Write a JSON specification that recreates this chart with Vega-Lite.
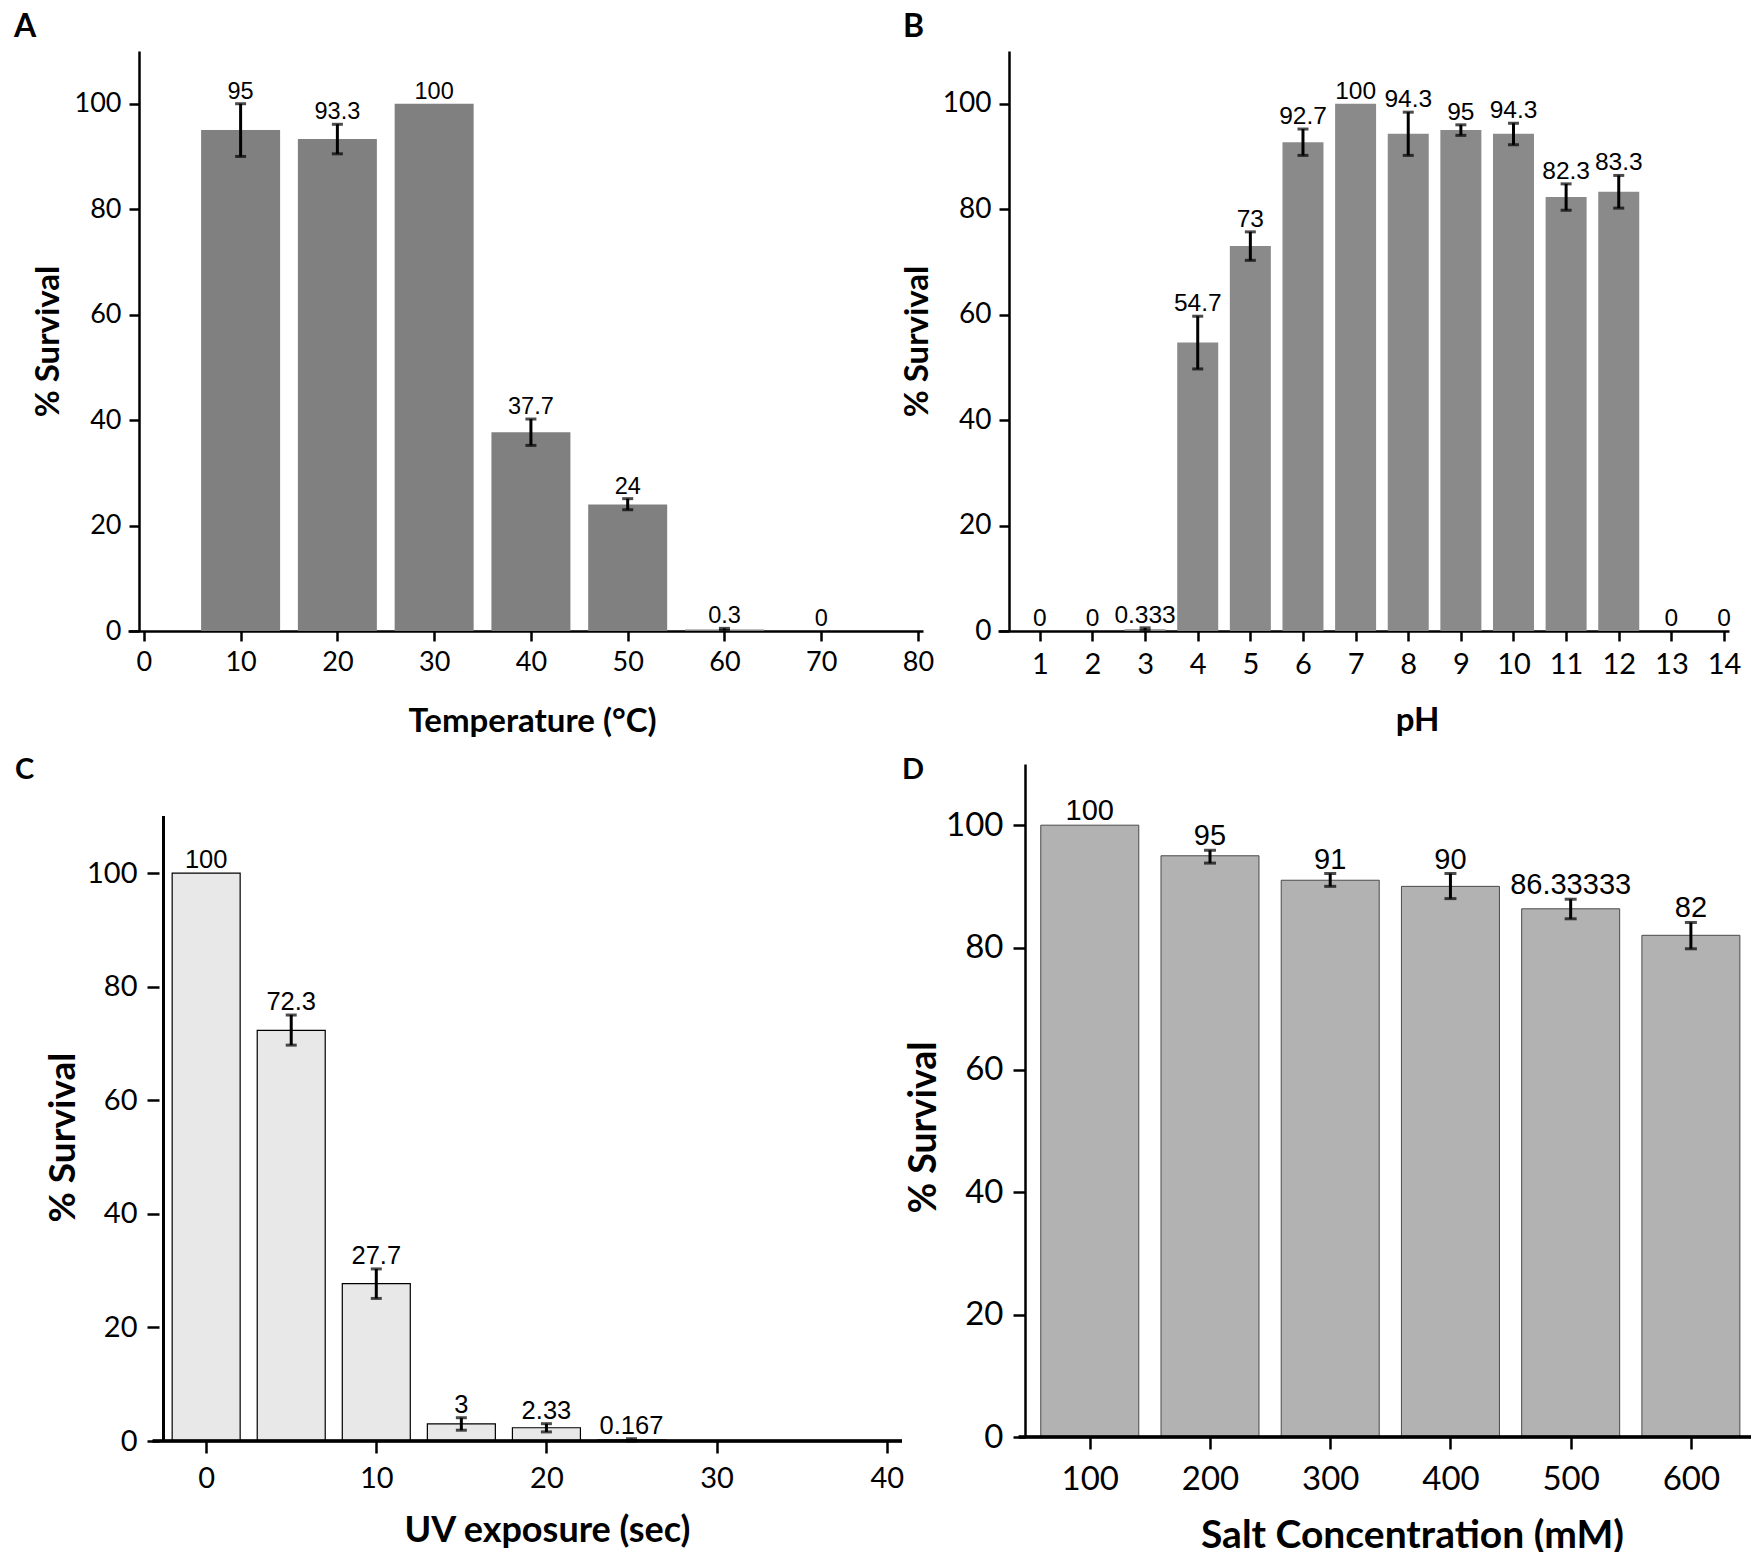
{
  "$schema": "https://vega.github.io/schema/vega-lite/v6.json",
  "background": "white",
  "padding": {"left": 14, "top": 11, "right": 0, "bottom": 0},
  "bounds": "flush",
  "columns": 2,
  "spacing": {"row": 133, "column": 75},
  "datasets": {
    "temp": [
      {"x": 10, "v": 95, "lo": 90, "hi": 100},
      {"x": 20, "v": 93.3, "lo": 90.5, "hi": 96.1},
      {"x": 30, "v": 100},
      {"x": 40, "v": 37.7, "lo": 35.2, "hi": 40.2},
      {"x": 50, "v": 24, "lo": 23, "hi": 25.1},
      {"x": 60, "v": 0.3, "lo": 0.1, "hi": 0.5},
      {"x": 70, "v": 0}
    ],
    "ph": [
      {"x": 1, "v": 0},
      {"x": 2, "v": 0},
      {"x": 3, "v": 0.333, "lo": 0.1, "hi": 0.6},
      {"x": 4, "v": 54.7, "lo": 49.7, "hi": 59.7},
      {"x": 5, "v": 73, "lo": 70.3, "hi": 75.7},
      {"x": 6, "v": 92.7, "lo": 90.2, "hi": 95.2},
      {"x": 7, "v": 100},
      {"x": 8, "v": 94.3, "lo": 90.2, "hi": 98.4},
      {"x": 9, "v": 95, "lo": 94, "hi": 96},
      {"x": 10, "v": 94.3, "lo": 92.2, "hi": 96.3},
      {"x": 11, "v": 82.3, "lo": 79.8, "hi": 84.8},
      {"x": 12, "v": 83.3, "lo": 80.2, "hi": 86.4},
      {"x": 13, "v": 0},
      {"x": 14, "v": 0}
    ],
    "uv": [
      {"x": 0, "v": 100},
      {"x": 5, "v": 72.3, "lo": 69.7, "hi": 75},
      {"x": 10, "v": 27.7, "lo": 25.1, "hi": 30.3},
      {"x": 15, "v": 3, "lo": 1.9, "hi": 4.1},
      {"x": 20, "v": 2.33, "lo": 1.6, "hi": 3.05},
      {"x": 25, "v": 0.167, "lo": 0, "hi": 0.4}
    ],
    "salt": [
      {"x": 100, "v": 100},
      {"x": 200, "v": 95, "lo": 93.8, "hi": 95.9},
      {"x": 300, "v": 91, "lo": 90, "hi": 92.1},
      {"x": 400, "v": 90, "lo": 88, "hi": 92.1},
      {"x": 500, "v": 86.33333, "lo": 84.7, "hi": 87.9},
      {"x": 600, "v": 82, "lo": 79.8, "hi": 84.1}
    ]
  },
  "concat": [
    {
      "width": 795,
      "height": 580,
      "data": {"name": "temp"},
      "title": {"text": "A", "anchor": "start", "frame": "group", "dx": -114, "offset": 7, "fontSize": 32},
      "encoding": {
        "x": {
          "field": "x", "type": "quantitative", "title": "Temperature (°C)",
          "scale": {"domain": [-1.12, 80], "nice": false, "zero": false},
          "axis": {"values": [0, 10, 20, 30, 40, 50, 60, 70, 80], "tickSize": 10, "labelFontSize": 27, "labelPadding": 8.5, "titleFontSize": 33, "titlePadding": 29.5, "titleX": 404}
        }
      },
      "layer": [
        {
          "mark": {"type": "bar", "width": 79, "color": "#808080"},
          "encoding": {
            "y": {
              "field": "v", "type": "quantitative", "title": "% Survival",
              "scale": {"domain": [0, 110], "nice": false},
              "axis": {"values": [0, 20, 40, 60, 80, 100], "offset": -11, "tickSize": 10, "labelFontSize": 27, "labelPadding": 8, "titleFontSize": 33, "titlePadding": 8.5}
            }
          }
        },
        {
          "transform": [{"filter": "isValid(datum.hi)"}],
          "mark": {"type": "rule", "strokeWidth": 3, "color": "black"},
          "encoding": {"y": {"field": "lo", "type": "quantitative", "title": "% Survival"}, "y2": {"field": "hi"}}
        },
        {
          "transform": [{"filter": "isValid(datum.hi)"}],
          "mark": {"type": "tick", "orient": "horizontal", "size": 11, "thickness": 3, "color": "black"},
          "encoding": {"y": {"field": "lo", "type": "quantitative", "title": "% Survival"}}
        },
        {
          "transform": [{"filter": "isValid(datum.hi)"}],
          "mark": {"type": "tick", "orient": "horizontal", "size": 11, "thickness": 3, "color": "black"},
          "encoding": {"y": {"field": "hi", "type": "quantitative", "title": "% Survival"}}
        },
        {
          "transform": [{"filter": "isValid(datum.hi)"}],
          "mark": {"type": "text", "baseline": "alphabetic", "dy": -5, "fontSize": 23.5},
          "encoding": {"y": {"field": "hi", "type": "quantitative", "title": "% Survival"}, "text": {"field": "v", "type": "nominal"}}
        },
        {
          "transform": [{"filter": "!isValid(datum.hi)"}],
          "mark": {"type": "text", "baseline": "alphabetic", "dy": -5, "fontSize": 23.5},
          "encoding": {"y": {"field": "v", "type": "quantitative", "title": "% Survival"}, "text": {"field": "v", "type": "nominal"}}
        }
      ]
    },
    {
      "width": 731,
      "height": 580,
      "data": {"name": "ph"},
      "title": {"text": "B", "anchor": "start", "frame": "group", "dx": -95, "offset": 7, "fontSize": 32},
      "encoding": {
        "x": {
          "field": "x", "type": "quantitative", "title": "pH",
          "scale": {"domain": [0.3, 14], "nice": false, "zero": false},
          "axis": {"values": [1, 2, 3, 4, 5, 6, 7, 8, 9, 10, 11, 12, 13, 14], "tickSize": 10, "labelFontSize": 29, "labelPadding": 9.5, "titleFontSize": 33, "titlePadding": 24.5, "titleX": 419}
        }
      },
      "layer": [
        {
          "mark": {"type": "bar", "width": 41, "color": "#8a8a8a"},
          "encoding": {
            "y": {
              "field": "v", "type": "quantitative", "title": "% Survival",
              "scale": {"domain": [0, 110], "nice": false},
              "axis": {"values": [0, 20, 40, 60, 80, 100], "offset": -11, "tickSize": 10, "labelFontSize": 28, "labelPadding": 8, "titleFontSize": 33, "titlePadding": 7.5}
            }
          }
        },
        {
          "transform": [{"filter": "isValid(datum.hi)"}],
          "mark": {"type": "rule", "strokeWidth": 3, "color": "black"},
          "encoding": {"y": {"field": "lo", "type": "quantitative", "title": "% Survival"}, "y2": {"field": "hi"}}
        },
        {
          "transform": [{"filter": "isValid(datum.hi)"}],
          "mark": {"type": "tick", "orient": "horizontal", "size": 11, "thickness": 3, "color": "black"},
          "encoding": {"y": {"field": "lo", "type": "quantitative", "title": "% Survival"}}
        },
        {
          "transform": [{"filter": "isValid(datum.hi)"}],
          "mark": {"type": "tick", "orient": "horizontal", "size": 11, "thickness": 3, "color": "black"},
          "encoding": {"y": {"field": "hi", "type": "quantitative", "title": "% Survival"}}
        },
        {
          "transform": [{"filter": "isValid(datum.hi)"}],
          "mark": {"type": "text", "baseline": "alphabetic", "dy": -5, "fontSize": 24.5},
          "encoding": {"y": {"field": "hi", "type": "quantitative", "title": "% Survival"}, "text": {"field": "v", "type": "nominal"}}
        },
        {
          "transform": [{"filter": "!isValid(datum.hi)"}],
          "mark": {"type": "text", "baseline": "alphabetic", "dy": -5, "fontSize": 24.5},
          "encoding": {"y": {"field": "v", "type": "quantitative", "title": "% Survival"}, "text": {"field": "v", "type": "nominal"}}
        }
      ]
    },
    {
      "width": 779,
      "height": 677,
      "data": {"name": "uv"},
      "title": {"text": "C", "anchor": "start", "frame": "group", "dx": -113, "offset": -21, "fontSize": 29},
      "encoding": {
        "x": {
          "field": "x", "type": "quantitative", "title": "UV exposure (sec)",
          "scale": {"domain": [-4.3, 40.9], "nice": false, "zero": false},
          "axis": {"values": [0, 10, 20, 30, 40], "domain": false, "tickSize": 12, "labelFontSize": 29, "labelPadding": 11, "titleFontSize": 36, "titlePadding": 20, "titleX": 419}
        }
      },
      "layer": [
        {
          "mark": {"type": "bar", "width": 68, "fill": "#e8e8e8", "stroke": "black", "strokeWidth": 1.2},
          "encoding": {
            "y": {
              "field": "v", "type": "quantitative", "title": "% Survival",
              "scale": {"domain": [0, 119.2], "nice": false},
              "axis": {"values": [0, 20, 40, 60, 80, 100], "domain": false, "offset": -31, "tickSize": 12, "labelFontSize": 29, "labelPadding": 10, "titleFontSize": 37, "titlePadding": 4, "titleY": 373}
            }
          }
        },
        {
          "mark": {"type": "rule", "strokeWidth": 2.5, "color": "black"},
          "encoding": {"x": {"datum": -3.14, "type": "quantitative"}, "x2": {"datum": 40.9}, "y": {"datum": 0, "type": "quantitative"}}
        },
        {
          "mark": {"type": "rule", "strokeWidth": 2.5, "color": "black"},
          "encoding": {"x": {"datum": -2.5, "type": "quantitative"}, "y": {"datum": 0, "type": "quantitative"}, "y2": {"datum": 110}}
        },
        {
          "transform": [{"filter": "isValid(datum.hi)"}],
          "mark": {"type": "rule", "strokeWidth": 3, "color": "black"},
          "encoding": {"y": {"field": "lo", "type": "quantitative", "title": "% Survival"}, "y2": {"field": "hi"}}
        },
        {
          "transform": [{"filter": "isValid(datum.hi)"}],
          "mark": {"type": "tick", "orient": "horizontal", "size": 11, "thickness": 3, "color": "black"},
          "encoding": {"y": {"field": "lo", "type": "quantitative", "title": "% Survival"}}
        },
        {
          "transform": [{"filter": "isValid(datum.hi)"}],
          "mark": {"type": "tick", "orient": "horizontal", "size": 11, "thickness": 3, "color": "black"},
          "encoding": {"y": {"field": "hi", "type": "quantitative", "title": "% Survival"}}
        },
        {
          "transform": [{"filter": "isValid(datum.hi)"}],
          "mark": {"type": "text", "baseline": "alphabetic", "dy": -5, "fontSize": 25.5},
          "encoding": {"y": {"field": "hi", "type": "quantitative", "title": "% Survival"}, "text": {"field": "v", "type": "nominal"}}
        },
        {
          "transform": [{"filter": "!isValid(datum.hi)"}],
          "mark": {"type": "text", "baseline": "alphabetic", "dy": -5, "fontSize": 25.5},
          "encoding": {"y": {"field": "v", "type": "quantitative", "title": "% Survival"}, "text": {"field": "v", "type": "nominal"}}
        }
      ]
    },
    {
      "width": 758,
      "height": 673,
      "data": {"name": "salt"},
      "title": {"text": "D", "anchor": "start", "frame": "group", "dx": -96, "offset": -21, "fontSize": 29},
      "encoding": {
        "x": {
          "field": "x", "type": "quantitative", "title": "Salt Concentration (mM)",
          "scale": {"domain": [27.83, 650], "nice": false, "zero": false},
          "axis": {"values": [100, 200, 300, 400, 500, 600], "domain": false, "tickSize": 12, "labelFontSize": 33, "labelPadding": 14, "titleFontSize": 39, "titlePadding": 20, "titleX": 414}
        }
      },
      "layer": [
        {
          "mark": {"type": "bar", "width": 98, "fill": "#b2b2b2", "stroke": "#4a4a4a", "strokeWidth": 1},
          "encoding": {
            "y": {
              "field": "v", "type": "quantitative", "title": "% Survival",
              "scale": {"domain": [0, 110], "nice": false},
              "axis": {"values": [0, 20, 40, 60, 80, 100], "offset": -27, "tickSize": 12, "labelFontSize": 33, "labelPadding": 10, "titleFontSize": 37.5, "titlePadding": 2.5, "titleY": 363}
            }
          }
        },
        {
          "mark": {"type": "rule", "strokeWidth": 2.5, "color": "black"},
          "encoding": {"x": {"datum": 40.97, "type": "quantitative"}, "x2": {"datum": 650}, "y": {"datum": 0, "type": "quantitative"}}
        },
        {
          "transform": [{"filter": "isValid(datum.hi)"}],
          "mark": {"type": "rule", "strokeWidth": 3, "color": "black"},
          "encoding": {"y": {"field": "lo", "type": "quantitative", "title": "% Survival"}, "y2": {"field": "hi"}}
        },
        {
          "transform": [{"filter": "isValid(datum.hi)"}],
          "mark": {"type": "tick", "orient": "horizontal", "size": 12, "thickness": 3, "color": "black"},
          "encoding": {"y": {"field": "lo", "type": "quantitative", "title": "% Survival"}}
        },
        {
          "transform": [{"filter": "isValid(datum.hi)"}],
          "mark": {"type": "tick", "orient": "horizontal", "size": 12, "thickness": 3, "color": "black"},
          "encoding": {"y": {"field": "hi", "type": "quantitative", "title": "% Survival"}}
        },
        {
          "transform": [{"filter": "isValid(datum.hi)"}],
          "mark": {"type": "text", "baseline": "alphabetic", "dy": -5, "fontSize": 29},
          "encoding": {"y": {"field": "hi", "type": "quantitative", "title": "% Survival"}, "text": {"field": "v", "type": "nominal"}}
        },
        {
          "transform": [{"filter": "!isValid(datum.hi)"}],
          "mark": {"type": "text", "baseline": "alphabetic", "dy": -5, "fontSize": 29},
          "encoding": {"y": {"field": "v", "type": "quantitative", "title": "% Survival"}, "text": {"field": "v", "type": "nominal"}}
        }
      ]
    }
  ],
  "config": {
    "view": {"stroke": null},
    "font": "Lato",
    "title": {"font": "Lato", "fontSize": 30, "fontWeight": "bold", "color": "black", "baseline": "alphabetic"},
    "axis": {
      "grid": false,
      "domainColor": "black",
      "domainWidth": 2.5,
      "tickColor": "black",
      "tickWidth": 2.5,
      "labelFont": "Lato",
      "labelColor": "black",
      "titleFont": "Lato",
      "titleFontWeight": "bold",
      "titleColor": "black"
    },
    "text": {"font": "Liberation Sans", "color": "black"}
  }
}
